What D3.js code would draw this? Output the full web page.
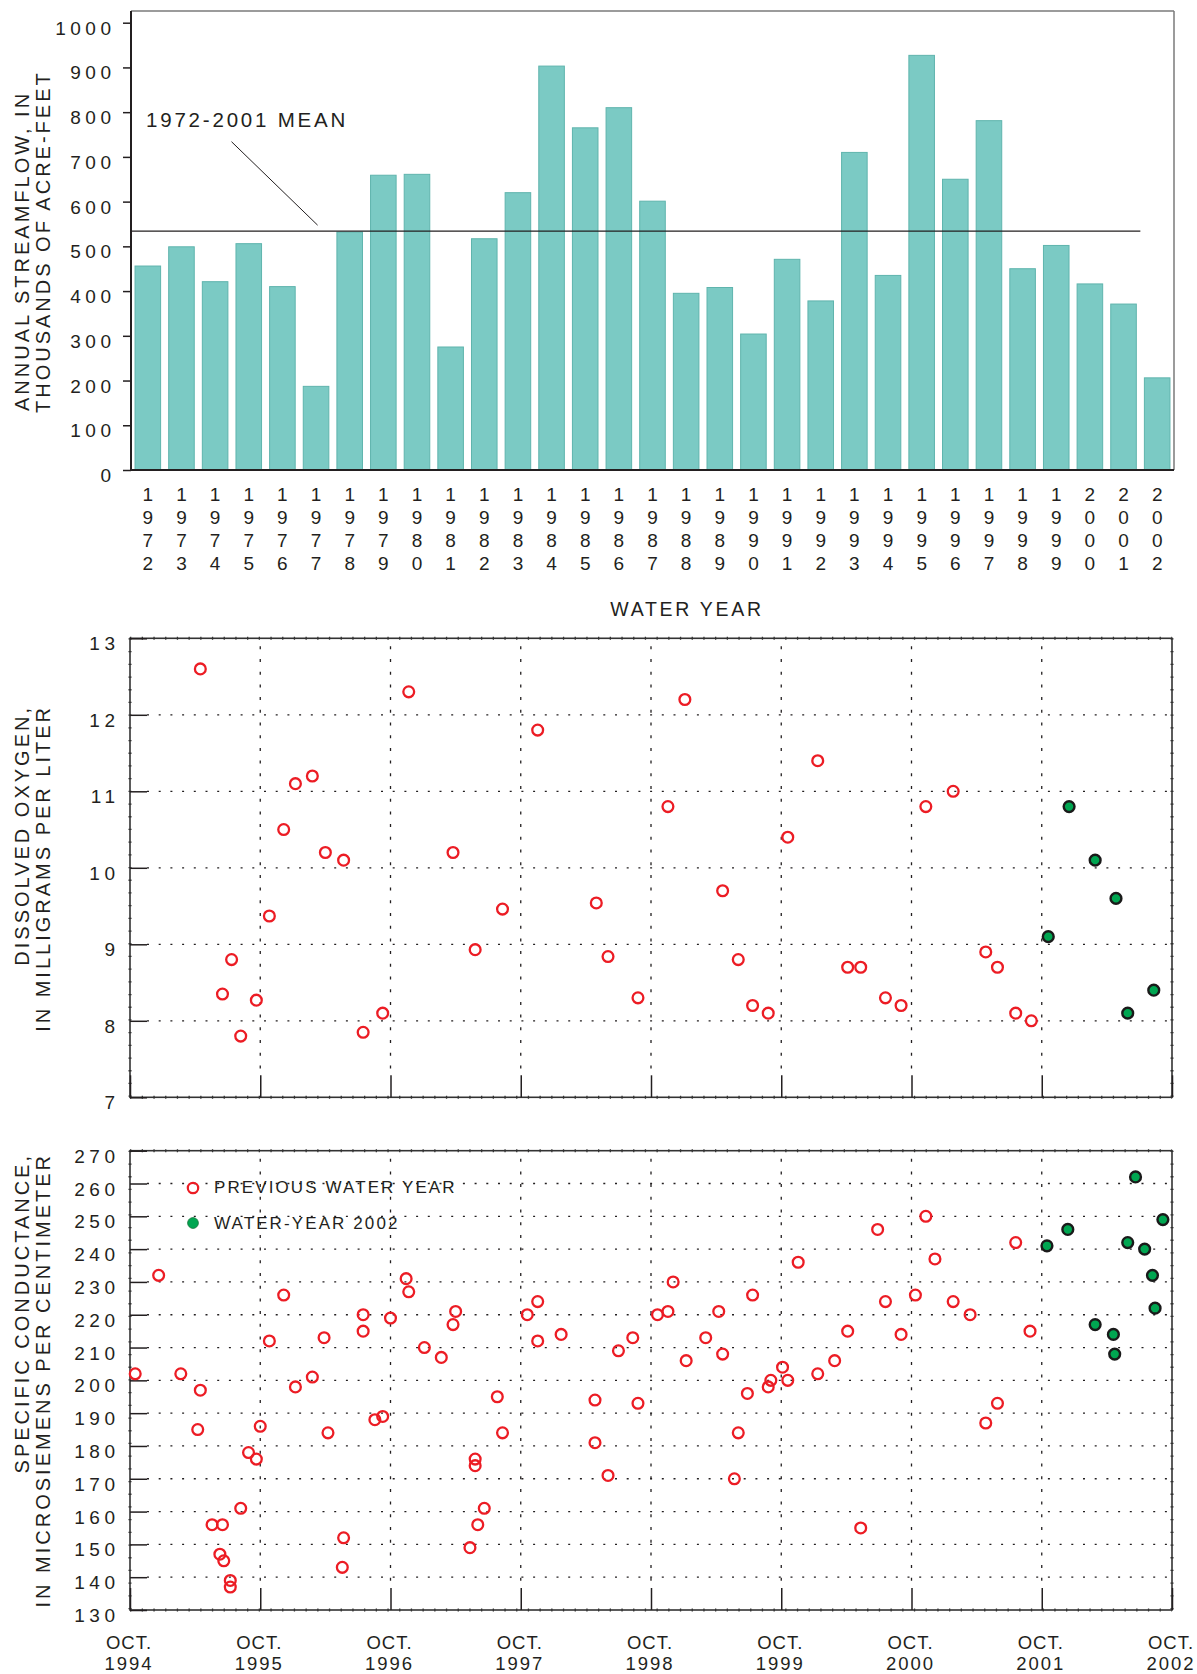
<!DOCTYPE html>
<html>
<head>
<meta charset="utf-8">
<script src="https://cdn.jsdelivr.net/npm/d3@7"></script>
<style>
  body { margin: 0; background: #fff; }
  svg { display: block; }
  text { font-family: "Liberation Sans", Arial, Helvetica, sans-serif; fill: #231f20; }
</style>
</head>
<body>
<svg id="chart" width="1197" height="1674"></svg>
<script>
// ---------------- DATA ----------------
const waterYears = [1972,1973,1974,1975,1976,1977,1978,1979,1980,1981,1982,1983,1984,1985,1986,1987,
  1988,1989,1990,1991,1992,1993,1994,1995,1996,1997,1998,1999,2000,2001,2002];
const streamflow = [456,499,421,506,410,187,532,659,661,275,517,620,903,765,810,601,
  395,408,304,471,378,710,435,927,650,781,450,502,416,371,206];
const meanLabel = "1972-2001 MEAN";
const flowTicks = [0,100,200,300,400,500,600,700,800,900,1000];

// dates as decimal years
const doPrevDates = [1995.29,1995.46,1995.53,1995.60,1995.72,1995.82,1995.93,1996.02,1996.15,1996.25,
  1996.39,1996.54,1996.69,1996.89,1997.23,1997.40,1997.61,1997.88,1998.33,1998.42,1998.65,1998.88,
  1999.01,1999.30,1999.42,1999.53,1999.65,1999.80,2000.03,2000.26,2000.36,2000.55,2000.67,2000.86,
  2001.07,2001.32,2001.41,2001.55,2001.67];
const doPrevValues = [12.6,8.35,8.8,7.8,8.27,9.37,10.5,11.1,11.2,10.2,
  10.1,7.85,8.1,12.3,10.2,8.93,9.46,11.8,9.54,8.84,8.3,10.8,
  12.2,9.7,8.8,8.2,8.1,10.4,11.4,8.7,8.7,8.3,8.2,10.8,
  11.0,8.9,8.7,8.1,8.0];
const do2002Dates = [2001.80,2001.96,2002.16,2002.32,2002.41,2002.61];
const do2002Values = [9.1,10.8,10.1,9.6,8.1,8.4];
const doTicks = [7,8,9,10,11,12,13];

const scPrevDates = [1994.79,1994.97,1995.14,1995.29,1995.27,1995.38,1995.46,1995.44,1995.47,1995.52,
  1995.52,1995.60,1995.66,1995.72,1995.75,1995.82,1995.93,1996.02,1996.15,1996.24,1996.27,1996.39,
  1996.38,1996.54,1996.54,1996.63,1996.69,1996.75,1996.87,1996.89,1997.01,1997.14,1997.25,1997.23,
  1997.36,1997.40,1997.40,1997.42,1997.47,1997.57,1997.61,1997.80,1997.88,1997.88,1998.06,1998.32,
  1998.32,1998.42,1998.50,1998.61,1998.65,1998.80,1998.88,1998.92,1999.02,1999.17,1999.27,1999.30,
  1999.39,1999.42,1999.49,1999.53,1999.65,1999.67,1999.76,1999.80,1999.88,2000.03,2000.16,2000.26,
  2000.36,2000.49,2000.55,2000.67,2000.78,2000.86,2000.93,2001.07,2001.20,2001.32,2001.41,2001.55,
  2001.66];
const scPrevValues = [202,232,202,197,185,156,156,147,145,139,
  137,161,178,176,186,212,226,198,201,213,184,152,
  143,215,220,188,189,219,231,227,210,207,221,217,
  149,176,174,156,161,195,184,220,224,212,214,194,
  181,171,209,213,193,220,221,230,206,213,221,208,
  170,184,196,226,198,200,204,200,236,202,206,215,
  155,246,224,214,226,250,237,224,220,187,193,242,
  215];
const sc2002Dates = [2001.79,2001.95,2002.16,2002.30,2002.31,2002.41,2002.47,2002.54,2002.60,2002.62,2002.68];
const sc2002Values = [241,246,217,214,208,242,262,240,232,222,249];
const scTicks = [130,140,150,160,170,180,190,200,210,220,230,240,250,260,270];

const octYears = [1994,1995,1996,1997,1998,1999,2000,2001,2002];
const legendLabels = ["PREVIOUS WATER YEAR","WATER-YEAR 2002"];

// ---------------- STYLE ----------------
const INK = "#231f20";
const RED = "#ec1c24";
const GREEN = "#00a651";
const BAR = "#7bcac4";
const BAR_EDGE = "#5fb4ad";
const FONT = '"Liberation Sans", Arial, sans-serif';

const svg = d3.select("#chart");

// ================= TOP: ANNUAL STREAMFLOW =================
const T = {left:131, right:1174, top:11, bottom:470};
const xb = d3.scaleBand().domain(waterYears).range([T.left, T.right]).paddingInner(0.24).paddingOuter(0.12);
const yf = d3.scaleLinear().domain([0,1000]).range([T.bottom, 22.7]);

const gT = svg.append("g");
gT.selectAll("rect.bar").data(waterYears).join("rect")
  .attr("class","bar")
  .attr("x", d => xb(d))
  .attr("y", (d,i) => yf(streamflow[i]))
  .attr("width", xb.bandwidth())
  .attr("height", (d,i) => yf(0) - yf(streamflow[i]))
  .attr("fill", BAR).attr("stroke", BAR_EDGE).attr("stroke-width", 1);

// mean line 1972-2001
const meanFlow = d3.mean(streamflow.slice(0, waterYears.indexOf(2001) + 1));
const meanEnd = xb(2001) + xb.bandwidth() + xb.step() * xb.paddingInner() / 2;
gT.append("line")
  .attr("x1", T.left).attr("x2", meanEnd)
  .attr("y1", yf(meanFlow)).attr("y2", yf(meanFlow))
  .attr("stroke", INK).attr("stroke-width", 1.2);
gT.append("line")
  .attr("x1", 231.5).attr("y1", 141.7).attr("x2", 317.6).attr("y2", yf(meanFlow) - 6)
  .attr("stroke", INK).attr("stroke-width", 1);
gT.append("text").attr("x", 146).attr("y", 127)
  .style("font-size","20.5px").style("letter-spacing","2.8px").text(meanLabel);

// frame
gT.append("line").attr("x1",T.left).attr("x2",T.right).attr("y1",T.top).attr("y2",T.top)
  .attr("stroke","#7a7a7a").attr("stroke-width",1.5);
gT.append("line").attr("x1",T.right).attr("x2",T.right).attr("y1",T.top).attr("y2",T.bottom)
  .attr("stroke","#7a7a7a").attr("stroke-width",1.5);

// y axis
const axT = gT.append("g").attr("transform",`translate(${T.left},0)`)
  .call(d3.axisLeft(yf).tickValues(flowTicks).tickFormat(d3.format("d"))
    .tickSize(8).tickPadding(7.5).tickSizeOuter(0));
axT.select(".domain").attr("stroke", INK).attr("stroke-width", 2).attr("d", `M0,${T.top}V${T.bottom}`);
axT.selectAll(".tick line").attr("stroke", INK).attr("stroke-width", 1.5);
axT.selectAll(".tick text").attr("dy", null).attr("y", 11.5)
  .style("font-size","19px").style("letter-spacing","4.5px").attr("fill", INK)
  .style("font-family", FONT);
// bottom axis line
gT.append("line").attr("x1",T.left).attr("x2",T.right).attr("y1",T.bottom).attr("y2",T.bottom)
  .attr("stroke",INK).attr("stroke-width",2);

// year labels (stacked digits)
const rowY = [500.7, 524, 547, 569.5];
const yl = gT.selectAll("g.yl").data(waterYears).join("g").attr("class","yl")
  .attr("transform", d => `translate(${xb(d) + xb.bandwidth()/2},0)`);
yl.selectAll("text").data(d => String(d).split("")).join("text")
  .attr("x", 0).attr("y", (c,i) => rowY[i]).attr("text-anchor","middle")
  .style("font-size","19px").text(c => c);

gT.append("text").attr("x", 687).attr("y", 616).attr("text-anchor","middle")
  .style("font-size","19.5px").style("letter-spacing","2.7px").text("WATER YEAR");

// y titles
function yTitle(x, y, anchor, txt){
  svg.append("text").attr("transform", `translate(${x},${y}) rotate(-90)`)
    .attr("text-anchor", anchor).style("font-size","20px").style("letter-spacing","3px").text(txt);
}
yTitle(29, 411, "start", "ANNUAL STREAMFLOW, IN");
yTitle(50, 413, "start", "THOUSANDS OF ACRE-FEET");

// ================= SCATTER PANELS =================
function panel(box, yDomain, yTicks, prevX, prevY, curX, curY, showX){
  const g = svg.append("g");
  const x = d3.scaleLinear().domain([1994.75, 2002.75]).range([box.left, box.right]);
  const y = d3.scaleLinear().domain(yDomain).range([box.bottom, box.top]);
  const octPos = octYears.map(v => v + 0.75);

  // dotted grid
  g.selectAll("line.hg").data(yTicks.slice(1, -1)).join("line").attr("class","hg")
    .attr("x1", box.left + 17).attr("x2", box.right).attr("y1", d => y(d)).attr("y2", d => y(d))
    .attr("stroke", INK).attr("stroke-width", 1.3).attr("stroke-dasharray", "2,9.7");
  g.selectAll("line.vg").data(octPos.slice(1, -1)).join("line").attr("class","vg")
    .attr("x1", d => x(d)).attr("x2", d => x(d)).attr("y1", box.top + 8).attr("y2", box.bottom - 22)
    .attr("stroke", INK).attr("stroke-width", 1.3).attr("stroke-dasharray", "3,9.7");

  // frame
  g.append("rect").attr("x", box.left).attr("y", box.top)
    .attr("width", box.right - box.left).attr("height", box.bottom - box.top)
    .attr("fill","none").attr("stroke", "#333").attr("stroke-width", 1.6);
  // dotted texture along frame
  [[box.left,box.top,box.right,box.top],[box.left,box.bottom,box.right,box.bottom]].forEach(c=>{
    g.append("line").attr("x1",c[0]).attr("y1",c[1]).attr("x2",c[2]).attr("y2",c[3])
      .attr("stroke","#333").attr("stroke-width",3).attr("stroke-dasharray","1.3,10.4");
  });
  [[box.left,box.top,box.left,box.bottom],[box.right,box.top,box.right,box.bottom]].forEach(c=>{
    g.append("line").attr("x1",c[0]).attr("y1",c[1]).attr("x2",c[2]).attr("y2",c[3])
      .attr("stroke","#333").attr("stroke-width",3).attr("stroke-dasharray","1.3,11.4");
  });

  // left axis with inward ticks
  const ay = g.append("g").attr("transform", `translate(${box.left},0)`)
    .call(d3.axisLeft(y).tickValues(yTicks).tickFormat(d3.format("d"))
      .tickSize(-17).tickPadding(0).tickSizeOuter(0));
  ay.select(".domain").remove();
  ay.selectAll(".tick line").attr("stroke", INK).attr("stroke-width", 1.5);
  ay.selectAll(".tick text").attr("x", -10.5).attr("dy", null).attr("y", 11.5)
    .style("font-size","19px").style("letter-spacing","4.5px").attr("fill", INK)
    .style("font-family", FONT);

  // bottom axis ticks
  const ax = g.append("g").attr("transform", `translate(0,${box.bottom})`)
    .call(d3.axisBottom(x).tickValues(octPos).tickSize(-22).tickSizeOuter(0).tickFormat(""));
  ax.select(".domain").remove();
  ax.selectAll(".tick line").attr("stroke", INK).attr("stroke-width", 1.5);
  if (showX) {
    const lab = g.selectAll("g.oct").data(octYears).join("g").attr("class","oct")
      .attr("transform", d => `translate(${x(d + 0.75) - 1},0)`);
    lab.append("text").attr("y", 1649.3).attr("text-anchor","middle")
      .style("font-size","18.5px").style("letter-spacing","1px").text("OCT.");
    lab.append("text").attr("y", 1670).attr("text-anchor","middle")
      .style("font-size","18.5px").style("letter-spacing","2px").text(d => d);
  }

  // points
  g.selectAll("circle.prev").data(prevX).join("circle").attr("class","prev")
    .attr("cx", d => x(d)).attr("cy", (d,i) => y(prevY[i])).attr("r", 5.4)
    .attr("fill","none").attr("stroke", RED).attr("stroke-width", 2.3);
  g.selectAll("circle.cur").data(curX).join("circle").attr("class","cur")
    .attr("cx", d => x(d)).attr("cy", (d,i) => y(curY[i])).attr("r", 5.4)
    .attr("fill", GREEN).attr("stroke", "#1a1a1a").attr("stroke-width", 2.4);
  return g;
}

panel({left:130, right:1172, top:638.3, bottom:1097.3}, [7,13], doTicks,
  doPrevDates, doPrevValues, do2002Dates, do2002Values, false);
yTitle(29, 705, "end", "DISSOLVED OXYGEN,");
yTitle(50, 705, "end", "IN MILLIGRAMS PER LITER");

const gS = panel({left:130, right:1172, top:1150.7, bottom:1610}, [130,270], scTicks,
  scPrevDates, scPrevValues, sc2002Dates, sc2002Values, true);
yTitle(29, 1153, "end", "SPECIFIC CONDUCTANCE,");
yTitle(50, 1153, "end", "IN MICROSIEMENS PER CENTIMETER");

// legend
const lg = gS.append("g");
lg.append("circle").attr("cx",193).attr("cy",1188).attr("r",5.2)
  .attr("fill","none").attr("stroke",RED).attr("stroke-width",2.2);
lg.append("circle").attr("cx",193).attr("cy",1223).attr("r",5.4)
  .attr("fill",GREEN).attr("stroke","#16733a").attr("stroke-width",0.8);
lg.selectAll("text").data(legendLabels).join("text")
  .attr("x",214).attr("y",(d,i)=> i ? 1229 : 1192.5)
  .style("font-size","17px").style("letter-spacing","2.1px").text(d=>d);
</script>
</body>
</html>
